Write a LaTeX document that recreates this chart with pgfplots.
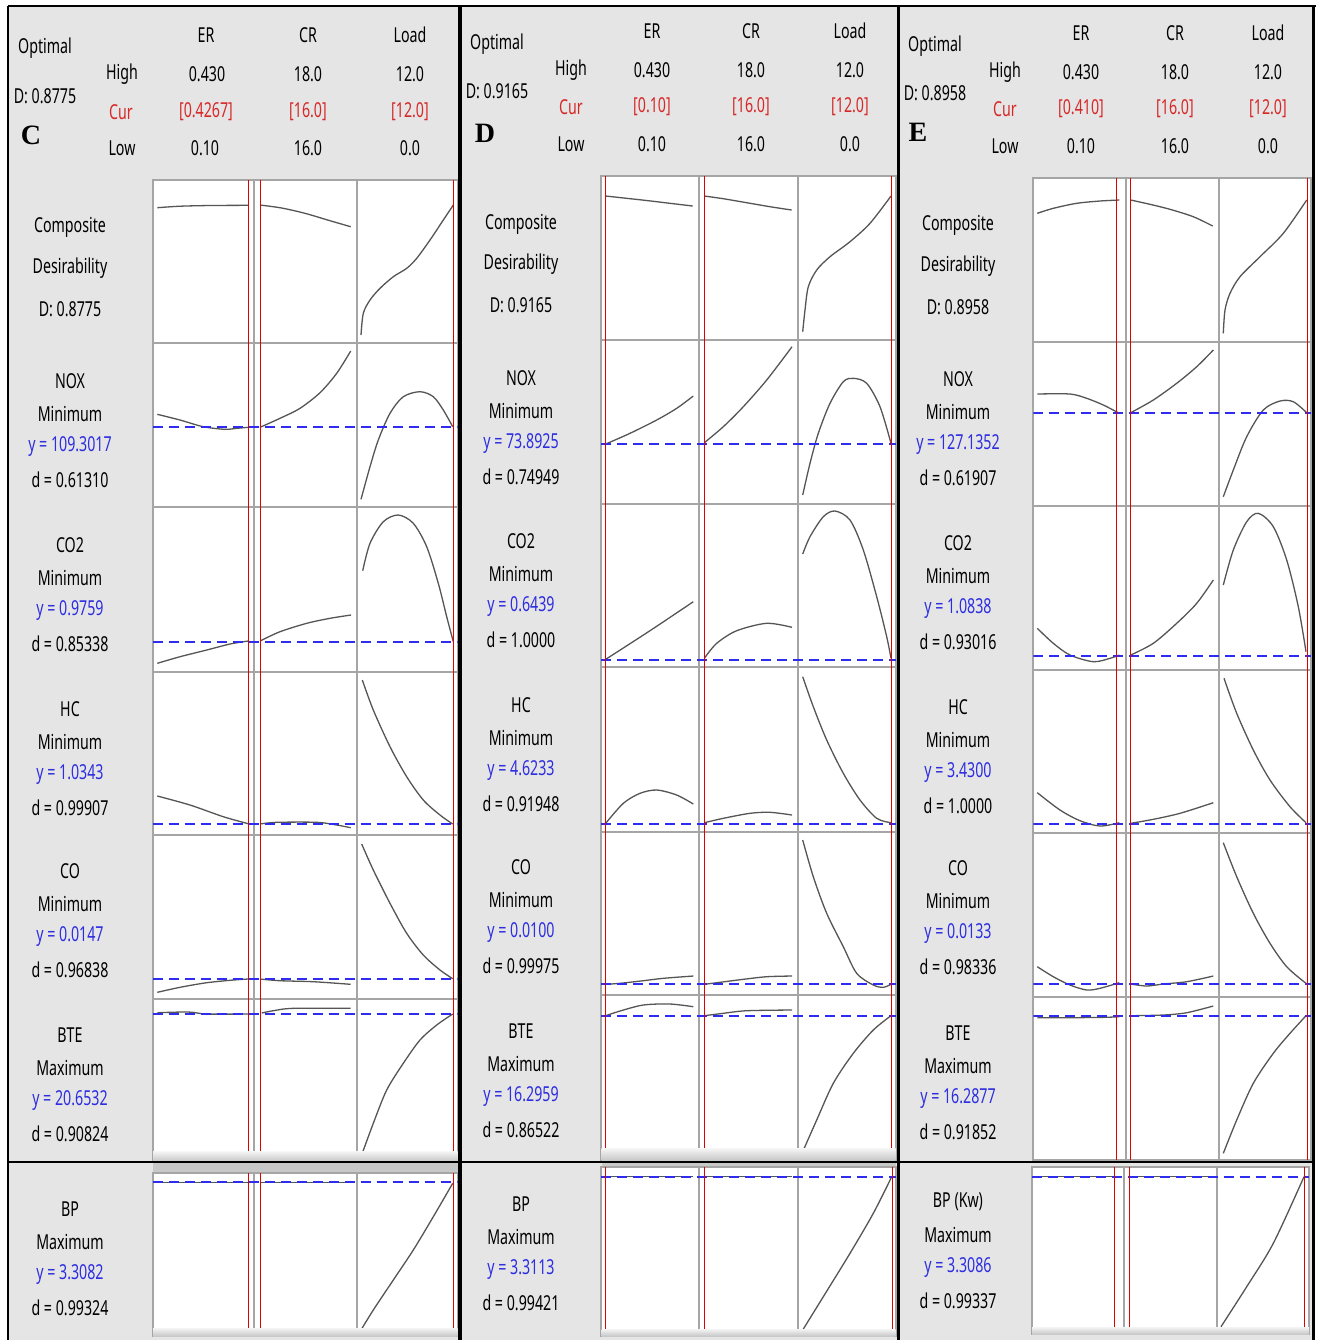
\documentclass[border=0pt]{standalone}
\usepackage{pgfplots}
\pgfplotsset{compat=1.18}
\usepackage{fontspec}
\setmainfont{Noto Sans}[FakeStretch=0.69]
\newfontfamily\tnr{Liberation Serif}
\definecolor{bg}{RGB}{229,229,229}
\definecolor{gridc}{RGB}{165,165,165}
\definecolor{curvec}{RGB}{85,85,85}
\definecolor{bluel}{RGB}{45,45,235}
\definecolor{bluet}{RGB}{45,45,225}
\definecolor{redt}{RGB}{215,40,40}
\definecolor{redl}{RGB}{225,0,0}
\definecolor{strip}{RGB}{200,200,200}
\pgfplotsset{
 panel/.style={x=0.5pt,y=0.5pt,y dir=reverse,anchor=north west,
   axis background/.style={fill=white},
   axis line style={gridc,line width=1pt},
   grid=major, grid style={gridc,line width=1pt},
   major tick length=0pt, xticklabels={}, yticklabels={},
   tick label style={opacity=0},
   clip=true},
 cv/.style={curvec,line width=0.65pt,smooth,mark=none},
 rl/.style={redl,line width=0.5pt,mark=none},
 bl/.style={bluel,line width=1pt,dash pattern=on 5pt off 3pt,mark=none},
}
\newcommand{\lab}[6]{%
 \node at (#1,#2) {#3};
 \node at (#1,#2+32.8) {#4};
 \node[text=bluet] at (#1,#2+65.6) {#5};
 \node at (#1,#2+98.4) {#6};}
\newcommand{\comp}[5]{%
 \node at (#1,#2) {Composite};
 \node at (#1,#3) {Desirability};
 \node at (#1,#4) {#5};}
\begin{document}
\begin{tikzpicture}[x=0.5pt,y=-0.5pt,font=\fontsize{10.3}{12}\selectfont,every node/.style={inner sep=0pt}]
\path[use as bounding box] (0,0) rectangle (1320,1340);
\fill[bg] (8,6) rectangle (1315,1340);

% ================= PANEL C =================
\begin{axis}[panel,at={(76.35pt,-90pt)},xmin=152.7,xmax=457.7,ymin=180,ymax=1160,
  xtick={254.3,356.7},ytick={343.3,506.7,671.7,835,999.3}]
% Composite
\addplot[cv] coordinates {(157.3,207.7)(180,206.2)(210,205.5)(248.3,205.3)};
\addplot[cv] coordinates {(260,205)(281.7,208)(305,213.3)(330,220.7)(350.7,226.7)};
\addplot[cv] coordinates {(361,335)(363.3,313.3)(370,300)(380,288.3)(393.3,276.7)(406.7,268.3)(416.7,258.3)(430,240)(443.3,220)(453.3,205)};
% NOX
\addplot[cv] coordinates {(157.3,414.3)(180,420)(203.3,426.7)(225,429.3)(236.7,428.3)(248.3,427.3)};
\addplot[cv] coordinates {(260,427.3)(280,418.3)(300,408.3)(320,392.7)(336.7,373.3)(350.7,351)};
\addplot[cv] coordinates {(361,499.3)(370,466.7)(378.3,440)(390,413.3)(403.3,396.7)(420,391.7)(433.3,396.7)(443.3,410)(452.7,426.7)};
\addplot[bl] coordinates {(152.7,427.3)(457.7,427.3)};
% CO2
\addplot[cv] coordinates {(157.3,663.3)(180,656.7)(206.7,650)(230,644)(248.3,641)};
\addplot[cv] coordinates {(260,641)(280,631.7)(306.7,623.3)(330,618.3)(351,615)};
\addplot[cv] coordinates {(362.7,570.7)(370,543.3)(383.3,521.7)(398.3,515)(413.3,523.3)(426.7,546.7)(438.3,583.3)(446.7,616.7)(453.3,641.7)};
\addplot[bl] coordinates {(152.7,641.7)(457.7,641.7)};
% HC
\addplot[cv] coordinates {(157.3,796)(190,805)(223.3,816.7)(246.7,823.3)(248.3,824)};
\addplot[cv] coordinates {(260,824)(276.7,822.3)(316.7,822.3)(336.7,825)(350.7,827.7)};
\addplot[cv] coordinates {(362.3,680)(373.3,710)(390,746.7)(406.7,776.7)(423.3,800)(440,815)(452.7,824)};
\addplot[bl] coordinates {(152.7,824)(457.7,824)};
% CO
\addplot[cv] coordinates {(157.3,992.3)(180,987.3)(206.7,982.7)(233.3,980)(248.3,979)};
\addplot[cv] coordinates {(260,979)(280,980.7)(313.3,981.7)(350.7,984.3)};
\addplot[cv] coordinates {(361.7,844)(373.3,870)(390,903.3)(406.7,933.3)(423.3,955)(440,970)(452.7,978.7)};
\addplot[bl] coordinates {(152.7,978.7)(457.7,978.7)};
% BTE
\addplot[cv] coordinates {(157.3,1012.7)(188.3,1012)(206.7,1014)(248.3,1014)};
\addplot[cv] coordinates {(261.7,1013)(273.3,1010.7)(293.3,1008.3)(350.7,1008.3)};
\addplot[cv] coordinates {(361,1156.7)(373.3,1123.3)(386.7,1090)(403.3,1063.3)(420,1040)(436.7,1025)(452.7,1014)};
\addplot[bl] coordinates {(152.7,1014)(457.7,1014)};
% current settings
\addplot[rl] coordinates {(248.3,180)(248.3,1160)};
\addplot[rl] coordinates {(260,180)(260,1160)};
\addplot[rl] coordinates {(453.3,180)(453.3,1160)};
\end{axis}
\begin{axis}[panel,at={(76.35pt,-586.5pt)},xmin=152.7,xmax=457.7,ymin=1173,ymax=1336,
  xtick={254.3,356.7},ytick=\empty]
\addplot[cv] coordinates {(157.3,1182.3)(248.3,1182.3)};
\addplot[cv] coordinates {(260,1182.3)(350.7,1182.3)};
\addplot[cv] coordinates {(361,1330)(373.3,1310)(393.3,1280)(413.3,1250)(433.3,1216.7)(452.7,1183.3)};
\addplot[bl] coordinates {(152.7,1182.3)(457.7,1182.3)};
\addplot[rl] coordinates {(248.3,1173)(248.3,1336)};
\addplot[rl] coordinates {(260,1173)(260,1336)};
\addplot[rl] coordinates {(453.3,1173)(453.3,1336)};
\end{axis}

% ================= PANEL D =================
\begin{axis}[panel,at={(300.5pt,-88pt)},xmin=601,xmax=896,ymin=176,ymax=1160,
  xtick={699.3,798.3},ytick={340,504,666.7,831.7,995}]
% Composite
\addplot[cv] coordinates {(605.7,196)(626.7,198.3)(648.3,200.7)(670,203.3)(692.7,206)};
\addplot[cv] coordinates {(704.3,196)(723.3,198.7)(746.7,202.7)(770,206.7)(791.7,210)};
\addplot[cv] coordinates {(802.7,331.7)(805,310)(808.3,286.7)(816.7,270)(830,256.7)(850,241.7)(870,223.3)(891,196)};
% NOX
\addplot[cv] coordinates {(605.7,444)(630,433.3)(656.7,420)(676.7,408.3)(693.3,396)};
\addplot[cv] coordinates {(704.3,442.7)(723.3,426.7)(743.3,406.7)(766.7,380)(792,346.7)};
\addplot[cv] coordinates {(802.7,495)(810,463.3)(818.3,433.3)(830,403.3)(843.3,381.7)(853.3,378.3)(866.7,383.3)(880,406.7)(891,443.3)};
\addplot[bl] coordinates {(601,444)(896,444)};
% CO2
\addplot[cv] coordinates {(605.7,659.3)(649.5,631)(693.3,601.7)};
\addplot[cv] coordinates {(704.3,658.3)(716.7,643.3)(736.7,630.7)(766.7,623.3)(792,627.3)};
\addplot[cv] coordinates {(802.7,554)(810,536.7)(823.3,516.7)(835,511)(850,520)(863.3,550)(876.7,596.7)(886.7,636.7)(891,658.3)};
\addplot[bl] coordinates {(601,660.3)(896,660.3)};
% HC
\addplot[cv] coordinates {(605.7,823.3)(623.3,803.3)(640,793.3)(656.7,790)(676.7,795)(693.3,804)};
\addplot[cv] coordinates {(704.3,822.7)(723.3,818.3)(750,813.3)(770,812.3)(792,815)};
\addplot[cv] coordinates {(802.7,676.7)(813.3,706.7)(826.7,740)(843.3,773.3)(860,800)(876.7,818.3)(891,822.7)};
\addplot[bl] coordinates {(601,824)(896,824)};
% CO
\addplot[cv] coordinates {(605.7,984.3)(620,983.3)(643.3,980.7)(663.3,978.3)(693.3,976)};
\addplot[cv] coordinates {(704.3,984.3)(720,982.3)(743.3,979.3)(766.7,976.7)(792,976)};
\addplot[cv] coordinates {(802.7,840)(813.3,876.7)(826.7,913.3)(843.3,946.7)(856.7,973.3)(873.3,985)(883.3,987.3)(891,984.3)};
\addplot[bl] coordinates {(601,984.3)(896,984.3)};
% BTE
\addplot[cv] coordinates {(605.7,1015.7)(620,1011)(643.3,1005)(670,1004)(693.3,1006.7)};
\addplot[cv] coordinates {(704.3,1015.7)(723.3,1013.3)(746.7,1010.7)(792,1010)};
\addplot[cv] coordinates {(802.7,1151.7)(816.7,1120)(833.3,1083.3)(853.3,1053.3)(873.3,1030)(891,1015.7)};
\addplot[bl] coordinates {(601,1015.7)(896,1015.7)};
\addplot[rl] coordinates {(605.7,176)(605.7,1160)};
\addplot[rl] coordinates {(704.3,176)(704.3,1160)};
\addplot[rl] coordinates {(891.7,176)(891.7,1160)};
\end{axis}
\begin{axis}[panel,at={(300.5pt,-583.35pt)},xmin=601,xmax=896,ymin=1166.7,ymax=1336,
  xtick={699.3,798.3},ytick=\empty]
\addplot[cv] coordinates {(605.7,1176.7)(693.3,1176.7)};
\addplot[cv] coordinates {(704.3,1176.7)(792,1176.7)};
\addplot[cv] coordinates {(802.7,1330)(823.3,1296.7)(850,1253.3)(873.3,1213.3)(891.7,1176.7)};
\addplot[bl] coordinates {(601,1176.7)(896,1176.7)};
\addplot[rl] coordinates {(605.5,1166.7)(605.5,1336)};
\addplot[rl] coordinates {(704.3,1166.7)(704.3,1336)};
\addplot[rl] coordinates {(892.5,1166.7)(892.5,1336)};
\end{axis}

% ================= PANEL E =================
\begin{axis}[panel,at={(516.65pt,-89.15pt)},xmin=1033.3,xmax=1311,ymin=178.3,ymax=1160,
  xtick={1125.7,1219},ytick={342.3,506,670,833.3,996.7}]
% Composite
\addplot[cv] coordinates {(1037.3,213.3)(1053.3,208.3)(1076.7,203.3)(1100,201)(1119.3,200)};
\addplot[cv] coordinates {(1130.7,200)(1150,204.3)(1170,209.3)(1193.3,216.7)(1212.7,226)};
\addplot[cv] coordinates {(1223.3,333.3)(1225,310)(1230,293.3)(1240,276.7)(1260,256.7)(1283.3,233.3)(1306.7,200)};
% NOX
\addplot[cv] coordinates {(1037.3,394)(1070,394)(1086.7,398.3)(1103.3,405)(1119.3,413.3)};
\addplot[cv] coordinates {(1130.7,412.7)(1153.3,400)(1176.7,383.3)(1196.7,366.7)(1213.3,350)};
\addplot[cv] coordinates {(1223.3,496.7)(1233.3,470)(1246.7,436.7)(1263.3,410)(1280,401)(1293.3,401.7)(1306.7,412.7)};
\addplot[bl] coordinates {(1033.3,412.7)(1311,412.7)};
% CO2
\addplot[cv] coordinates {(1037.3,628.3)(1053.3,643.3)(1070,655)(1093.3,661.7)(1110,658.3)(1119.3,655)};
\addplot[cv] coordinates {(1130.7,655)(1153.3,643.3)(1176.7,623.3)(1196.7,603.3)(1213.3,580)};
\addplot[cv] coordinates {(1223.3,585)(1233.3,550)(1246.7,521.7)(1258.3,513.3)(1273.3,526.7)(1286.7,560)(1298.3,606.7)(1306,651.7)};
\addplot[bl] coordinates {(1033.3,656.3)(1311,656.3)};
% HC
\addplot[cv] coordinates {(1037.3,792.7)(1060,810)(1080,820.7)(1100,826)(1119.3,822.7)};
\addplot[cv] coordinates {(1130.7,823.3)(1153.3,819.3)(1180,813.3)(1213.3,802.7)};
\addplot[cv] coordinates {(1224,678.3)(1236.7,713.3)(1253.3,750)(1270,780)(1290,806.7)(1306,822.7)};
\addplot[bl] coordinates {(1033.3,824)(1311,824)};
% CO
\addplot[cv] coordinates {(1037.3,966.7)(1053.3,976.7)(1070,985)(1086.7,990)(1100,988.3)(1119.3,982.7)};
\addplot[cv] coordinates {(1130.7,984)(1146.7,986)(1163.3,984)(1186.7,981.7)(1213.3,976)};
\addplot[cv] coordinates {(1223.3,842.7)(1236.7,876.7)(1253.3,913.3)(1270,943.3)(1286.7,966.7)(1306,983.3)};
\addplot[bl] coordinates {(1033.3,984.3)(1311,984.3)};
% BTE
\addplot[cv] coordinates {(1037.3,1017.7)(1070,1017.7)(1105,1017.3)(1119.3,1016.7)};
\addplot[cv] coordinates {(1130.7,1015.7)(1163.3,1015)(1186.7,1012.7)(1213.3,1006)};
\addplot[cv] coordinates {(1223.3,1153.3)(1236.7,1120)(1253.3,1083.3)(1273.3,1053.3)(1290,1033.3)(1306,1015.7)};
\addplot[bl] coordinates {(1033.3,1015.7)(1311,1015.7)};
\addplot[rl] coordinates {(1116,178.3)(1116,1160)};
\addplot[rl] coordinates {(1130.7,178.3)(1130.7,1160)};
\addplot[rl] coordinates {(1307.3,178.3)(1307.3,1160)};
\end{axis}
\begin{axis}[panel,at={(515.85pt,-583.35pt)},xmin=1031.7,xmax=1309.3,ymin=1166.7,ymax=1334,
  xtick={1124.3,1217.3},ytick=\empty]
\addplot[cv] coordinates {(1035,1176.7)(1118,1176.7)};
\addplot[cv] coordinates {(1129,1176.7)(1212,1176.7)};
\addplot[cv] coordinates {(1221,1326.7)(1246.7,1286.7)(1273.3,1243.3)(1304,1176.7)};
\addplot[bl] coordinates {(1031.7,1176.7)(1309.3,1176.7)};
\addplot[rl] coordinates {(1114.3,1166.7)(1114.3,1334)};
\addplot[rl] coordinates {(1129,1166.7)(1129,1334)};
\addplot[rl] coordinates {(1304,1166.7)(1304,1334)};
\end{axis}

% scroll strips
\shade[top color=white!85!strip,bottom color=strip] (153,1151) rectangle (457.5,1161);
\fill[strip] (153,1163) rectangle (457.5,1172);
\shade[top color=white!80!strip,bottom color=strip] (153,1328) rectangle (457.5,1336);
\shade[top color=white!85!strip,bottom color=strip] (601.5,1148) rectangle (895.5,1160);
\fill[strip] (601.5,1162) rectangle (895.5,1166);
\shade[top color=white!80!strip,bottom color=strip] (601.5,1329) rectangle (895.5,1336);
\shade[top color=white!80!strip,bottom color=strip] (1032,1327) rectangle (1309,1334);

% panel borders
\draw[black,line width=1pt] (8,6) -- (1316,6);
\draw[black,line width=1.2pt] (8,6) -- (8,1340);
\draw[black,line width=1.8pt] (460,6) -- (460,1340);
\draw[black,line width=1.8pt] (898.5,6) -- (898.5,1340);
\draw[black,line width=1.5pt] (1313.5,6) -- (1313.5,1340);
\draw[black,line width=1.2pt] (8,1162) -- (1314,1162);

% ---------- headers ----------
\node at (45,48) {Optimal};
\node at (45,96) {D: 0.8775};
\node[font=\fontsize{14}{14}\selectfont\tnr\bfseries] at (31,135) {C};
\node at (122,74) {High}; \node[text=redt] at (121,112) {Cur}; \node at (122,148) {Low};
\node at (206,35) {ER}; \node at (308,35) {CR}; \node at (410,35) {Load};
\node at (207,74) {0.430}; \node at (308,74) {18.0}; \node at (410,74) {12.0};
\node[text=redt] at (206,112) {[0.4267]}; \node[text=redt] at (308,112) {[16.0]}; \node[text=redt] at (410,112) {[12.0]};
\node at (205,148) {0.10}; \node at (308,148) {16.0}; \node at (410,148) {0.0};

\node at (497,44) {Optimal};
\node at (497,91) {D: 0.9165};
\node[font=\fontsize{14}{14}\selectfont\tnr\bfseries] at (485,133) {D};
\node at (571,70) {High}; \node[text=redt] at (571,107) {Cur}; \node at (571,144) {Low};
\node at (652,31) {ER}; \node at (751,31) {CR}; \node at (850,31) {Load};
\node at (652,70) {0.430}; \node at (751,70) {18.0}; \node at (850,70) {12.0};
\node[text=redt] at (652,107) {[0.10]}; \node[text=redt] at (751,107) {[16.0]}; \node[text=redt] at (850,107) {[12.0]};
\node at (652,144) {0.10}; \node at (751,144) {16.0}; \node at (850,144) {0.0};

\node at (935,46) {Optimal};
\node at (935,93) {D: 0.8958};
\node[font=\fontsize{14}{14}\selectfont\tnr\bfseries] at (918,132) {E};
\node at (1005,72) {High}; \node[text=redt] at (1005,109) {Cur}; \node at (1005,146) {Low};
\node at (1081,33) {ER}; \node at (1175,33) {CR}; \node at (1268,33) {Load};
\node at (1081,72) {0.430}; \node at (1175,72) {18.0}; \node at (1268,72) {12.0};
\node[text=redt] at (1081,109) {[0.410]}; \node[text=redt] at (1175,109) {[16.0]}; \node[text=redt] at (1268,109) {[12.0]};
\node at (1081,146) {0.10}; \node at (1175,146) {16.0}; \node at (1268,146) {0.0};

% ---------- row labels ----------
\comp{70}{227}{268}{309}{D: 0.8775}
\lab{70}{381}{NOX}{Minimum}{y = 109.3017}{d = 0.61310}
\lab{70}{545}{CO2}{Minimum}{y = 0.9759}{d = 0.85338}
\lab{70}{709}{HC}{Minimum}{y = 1.0343}{d = 0.99907}
\lab{70}{871}{CO}{Minimum}{y = 0.0147}{d = 0.96838}
\lab{70}{1035}{BTE}{Maximum}{y = 20.6532}{d = 0.90824}
\lab{70}{1209}{BP}{Maximum}{y = 3.3082}{d = 0.99324}

\comp{521}{224}{264}{305}{D: 0.9165}
\lab{521}{378}{NOX}{Minimum}{y = 73.8925}{d = 0.74949}
\lab{521}{541}{CO2}{Minimum}{y = 0.6439}{d = 1.0000}
\lab{521}{705}{HC}{Minimum}{y = 4.6233}{d = 0.91948}
\lab{521}{867}{CO}{Minimum}{y = 0.0100}{d = 0.99975}
\lab{521}{1031}{BTE}{Maximum}{y = 16.2959}{d = 0.86522}
\lab{521}{1204}{BP}{Maximum}{y = 3.3113}{d = 0.99421}

\comp{958}{225}{266}{307}{D: 0.8958}
\lab{958}{379}{NOX}{Minimum}{y = 127.1352}{d = 0.61907}
\lab{958}{543}{CO2}{Minimum}{y = 1.0838}{d = 0.93016}
\lab{958}{707}{HC}{Minimum}{y = 3.4300}{d = 1.0000}
\lab{958}{868}{CO}{Minimum}{y = 0.0133}{d = 0.98336}
\lab{958}{1033}{BTE}{Maximum}{y = 16.2877}{d = 0.91852}
\lab{958}{1202}{BP (Kw)}{Maximum}{y = 3.3086}{d = 0.99337}
\end{tikzpicture}
\end{document}
